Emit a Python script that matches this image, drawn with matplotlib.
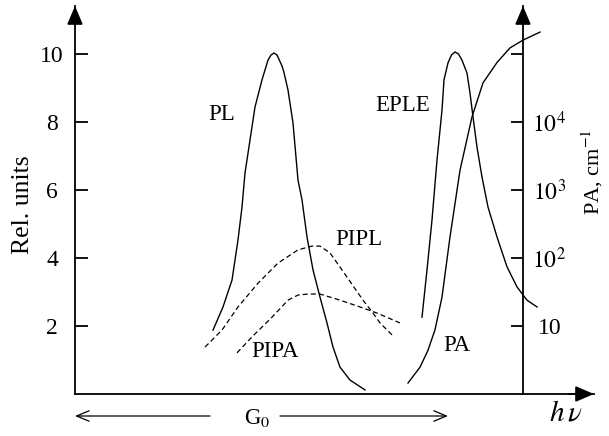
import matplotlib
matplotlib.use("Agg")
import matplotlib.pyplot as plt

plt.rcParams['font.family'] = ['Liberation Serif', 'DejaVu Serif']
plt.rcParams['mathtext.fontset'] = 'stix'

# ---- data (photon energy in arbitrary units, intensities in rel. units) ----
pl_x = [2.76, 2.96, 3.14, 3.26, 3.34, 3.40, 3.50, 3.60, 3.74, 3.80, 3.86, 3.92, 3.98,
        4.04, 4.14, 4.18, 4.26, 4.36, 4.46, 4.54, 4.64, 4.76, 4.90, 5.04, 5.16, 5.30,
        5.50, 5.80]
pl_y = [1.88, 2.56, 3.35, 4.53, 5.50, 6.50, 7.47, 8.44, 9.24, 9.53, 9.82, 9.97, 10.03,
        9.97, 9.65, 9.45, 8.94, 7.97, 6.29, 5.71, 4.62, 3.65, 2.85, 2.09, 1.38, 0.79,
        0.41, 0.12]

eple_x = [6.94, 7.04, 7.14, 7.24, 7.34, 7.38, 7.46, 7.53, 7.60, 7.67, 7.74, 7.84, 7.90,
          7.96, 8.04, 8.14, 8.26, 8.44, 8.64, 8.84, 9.04, 9.24]
eple_y = [2.26, 3.65, 5.12, 6.88, 8.35, 9.24, 9.74, 9.97, 10.06, 10.0, 9.82, 9.44, 8.85,
          8.15, 7.26, 6.38, 5.50, 4.62, 3.74, 3.15, 2.76, 2.56]

pipl_x = [2.60, 2.94, 3.26, 3.66, 4.06, 4.46, 4.74, 4.90, 5.10, 5.44, 5.76, 5.96, 6.10, 6.34]
pipl_y = [1.38, 1.88, 2.56, 3.26, 3.85, 4.24, 4.35, 4.35, 4.15, 3.44, 2.76, 2.38, 2.09, 1.74]

pipa_x = [3.24, 3.54, 3.94, 4.26, 4.46, 4.66, 4.90, 5.30, 5.70, 6.04, 6.50]
pipa_y = [1.21, 1.68, 2.26, 2.76, 2.91, 2.94, 2.94, 2.76, 2.56, 2.38, 2.09]

# photoabsorption, cm^-1 (right log axis)
pa_x = [6.66, 6.90, 7.06, 7.20, 7.34, 7.50, 7.70, 7.94, 8.16, 8.44, 8.70, 8.96, 9.30]
pa_v = [1.45, 2.48, 4.4, 8.8, 26.6, 204, 1950, 11900, 37600, 75000, 123000, 160000, 210000]

left_ticks = [2, 4, 6, 8, 10]
right_ticks = [10, 1e2, 1e3, 1e4, 1e5]
right_labels = ['10', r'$10^{2}$', r'$10^{3}$', r'$10^{4}$', '']

# ---- layout ----
W, H = 609, 436
fig = plt.figure(figsize=(W / 100, H / 100), dpi=100)
x0, x1, ytop, ybot = 75, 594, 6, 394
ax = fig.add_axes([x0 / W, 1 - ybot / H, (x1 - x0) / W, (ybot - ytop) / H])
XMAX = (x1 - x0) / 50.0
YMAX = (ybot - ytop) / 34.0
RIGHT_X = (523 - x0) / 50.0
ax.set_xlim(0, XMAX)
ax.set_ylim(0, YMAX)

spine_lw = 1.3
for s in ['top', 'right']:
    ax.spines[s].set_visible(False)
for s in ['left', 'bottom']:
    ax.spines[s].set_linewidth(spine_lw)
ax.set_xticks([])
ax.set_yticks(left_ticks)
ax.set_yticklabels([str(t) for t in left_ticks])
ax.tick_params(axis='y', direction='in', length=9, width=spine_lw, pad=16.5, labelsize=17)
for lab in ax.get_yticklabels():
    lab.set_ha('center')

ax2 = ax.twinx()
ax2.set_yscale('log')
ax2.set_ylim(1, 10 ** (YMAX / 2))
for s in ['top', 'left', 'bottom']:
    ax2.spines[s].set_visible(False)
ax2.spines['right'].set_position(('data', RIGHT_X))
ax2.spines['right'].set_linewidth(spine_lw)
ax2.set_yticks(right_ticks)
ax2.set_yticklabels(right_labels)
ax2.yaxis.set_minor_locator(matplotlib.ticker.NullLocator())
ax2.tick_params(axis='y', direction='in', length=9, width=spine_lw, pad=19, labelsize=17)
for lab in ax2.get_yticklabels():
    lab.set_ha('center')

# axis arrowheads
ap = dict(arrowstyle='-|>,head_length=0.75,head_width=0.32', color='black', lw=spine_lw,
          shrinkA=0, shrinkB=0, mutation_scale=15)
ax.annotate('', xy=(0, 1), xytext=(0, 0.95), xycoords='axes fraction', arrowprops=ap,
            annotation_clip=False)
ax.annotate('', xy=(1, 0), xytext=(0.95, 0), xycoords='axes fraction', arrowprops=ap,
            annotation_clip=False)
ax.annotate('', xy=(RIGHT_X, 1), xytext=(RIGHT_X, 0.95), xycoords=('data', 'axes fraction'),
            arrowprops=ap, annotation_clip=False)

# curves
lw = 1.0
ax.plot(pl_x, pl_y, color='black', lw=lw, solid_joinstyle='round')
ax.plot(eple_x, eple_y, color='black', lw=lw, solid_joinstyle='round')
ax.plot(pipl_x, pipl_y, color='black', lw=0.9, dashes=(4, 2.5))
ax.plot(pipa_x, pipa_y, color='black', lw=0.9, dashes=(4, 2.5))
ax2.plot(pa_x, pa_v, color='black', lw=lw, solid_joinstyle='round')

fs = 16.5
ax.text(2.94, 8.21, 'PL', fontsize=fs, ha='center', va='center')
ax.text(6.56, 8.5, 'EPLE', fontsize=fs, ha='center', va='center')
ax.text(5.68, 4.53, 'PIPL', fontsize=fs, ha='center', va='center')
ax.text(4.0, 1.26, 'PIPA', fontsize=fs, ha='center', va='center')
ax.text(7.64, 1.44, 'PA', fontsize=fs, ha='center', va='center')

# G0 range arrows below the axis
yg = (ybot - 416) / 34.0
gp = dict(arrowstyle='->,head_length=0.6,head_width=0.25', color='black', lw=0.9,
          shrinkA=0, shrinkB=0, mutation_scale=15)
ax.annotate('', xy=(0.0, yg), xytext=((210 - x0) / 50, yg), arrowprops=gp, annotation_clip=False)
ax.annotate('', xy=((448 - x0) / 50, yg), xytext=((280 - x0) / 50, yg), arrowprops=gp,
            annotation_clip=False)
ax.text((257 - x0) / 50, yg - 0.05, r'G$_0$', fontsize=16.5, ha='center', va='center',
        clip_on=False)

ax.text((566 - x0) / 50, (ybot - 413) / 34, r'$h\,\nu$', fontsize=21, ha='center', va='center',
        clip_on=False)

fig.text(23 / W, 1 - 205 / H, 'Rel. units', rotation=90, fontsize=18.5, ha='center', va='center')
fig.text(592 / W, 1 - 172 / H, r'PA, cm$^{-1}$', rotation=90, fontsize=16, ha='center',
         va='center')

fig.savefig('out.png', dpi=100)
